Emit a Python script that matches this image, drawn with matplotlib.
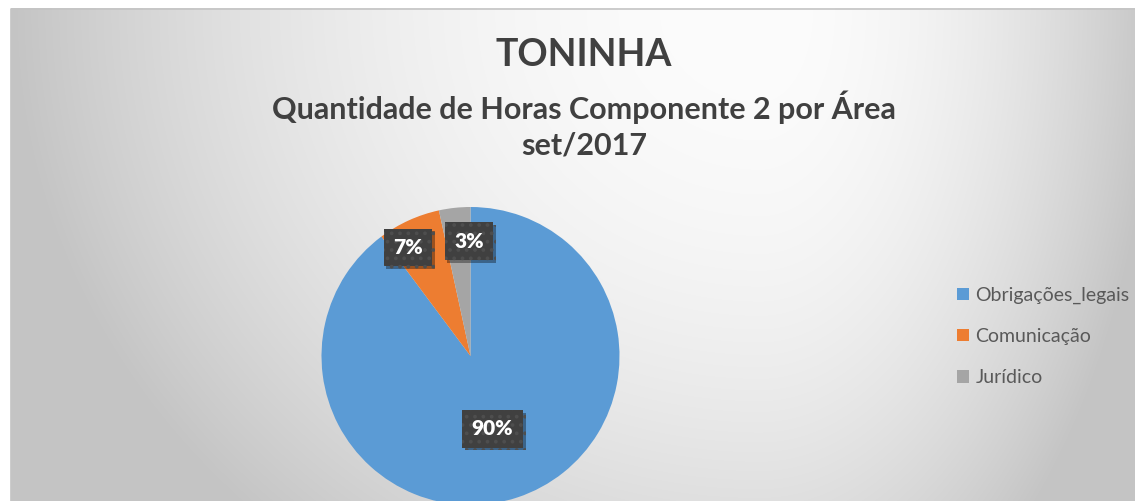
import numpy as np
import matplotlib
matplotlib.use('Agg')
import matplotlib.pyplot as plt
import matplotlib.patheffects as pe

# dados (percentual de horas por área)
areas = ['Obrigações_legais', 'Comunicação', 'Jurídico']
horas_pct = [89.8, 6.8, 3.4]
rotulos = ['90%', '7%', '3%']
cores = ['#5B9BD5', '#ED7D31', '#A5A5A5']

titulo = 'TONINHA'
subtitulo = 'Quantidade de Horas Componente 2 por Área\nset/2017'

W, H = 1135, 501
plt.rcParams['font.family'] = ['Lato', 'DejaVu Sans']
plt.rcParams['hatch.linewidth'] = 1.5

fig = plt.figure(figsize=(W / 100, H / 100), dpi=100)
ax = fig.add_axes([0, 0, 1, 1])

# fundo com gradiente radial (área do gráfico)
left, right, top, bottom = 11, 1157, 8, 700
fx, fy = 760, 10
xx, yy = np.meshgrid(np.arange(left, W) + 0.5, np.arange(top, H) + 0.5)
dx = np.where(xx > fx, (xx - fx) / (right - fx), (fx - xx) / (fx - left))
dy = (yy - fy) / (bottom - fy)
r = np.clip(np.sqrt(dx ** 2 + dy ** 2), 0, 1)
g = (252 - 56 * r ** 2) / 255
ax.imshow(np.dstack([g, g, g]), extent=(left, W, H, top), zorder=0,
          interpolation='bilinear', aspect='auto')
ax.plot([left, left, W], [H, top + 0.5, top + 0.5], color='#c4c4c4', lw=1.2, zorder=1)

# pizza
cx, cy, raio = 470.5, 356, 149
wedges, _ = ax.pie(horas_pct, colors=cores, startangle=-90, counterclock=True,
                   center=(cx, cy), radius=raio, frame=True,
                   wedgeprops=dict(linewidth=0, zorder=2))
ax.set_xlim(0, W)
ax.set_ylim(H, 0)
ax.set_aspect('auto')
ax.axis('off')

# rótulos de dados (posição "melhor ajuste")
dist = [0.51, 0.84, 0.77]
ajuste = [1.4, -5.5, 5.3]
for w, lab, f, a in zip(wedges, rotulos, dist, ajuste):
    ang = np.deg2rad((w.theta1 + w.theta2) / 2 + a)
    tx = cx + raio * f * np.cos(ang)
    ty = cy + raio * f * np.sin(ang)
    t = ax.text(tx, ty, lab, ha='center', va='center', color='white',
                fontsize=15, fontweight='heavy', zorder=5,
                bbox=dict(boxstyle='square,pad=0.45', facecolor='#404040',
                          edgecolor='#4e4e4e', linewidth=0, hatch='..'))
    t.get_bbox_patch().set_path_effects([
        pe.SimplePatchShadow(offset=(2, -2), shadow_rgbFace='black', alpha=0.35),
        pe.Normal()])

# títulos
ax.text(584, 55, titulo, ha='center', va='center', fontsize=27,
        fontweight='bold', color='#404040', zorder=4)
ax.text(584, 125, subtitulo, ha='center', va='center', fontsize=22,
        fontweight='bold', color='#404040', linespacing=1.35, zorder=4)

# legenda
leg = fig.legend(wedges, areas, loc='center left',
                 bbox_to_anchor=(957 / W, 1 - 336.5 / H), frameon=False,
                 fontsize=14, handlelength=0.6, handleheight=0.6,
                 handletextpad=0.35, labelspacing=1.25, borderpad=0,
                 borderaxespad=0)
for txt in leg.get_texts():
    txt.set_color('#595959')

fig.savefig('out.png', dpi=100)
